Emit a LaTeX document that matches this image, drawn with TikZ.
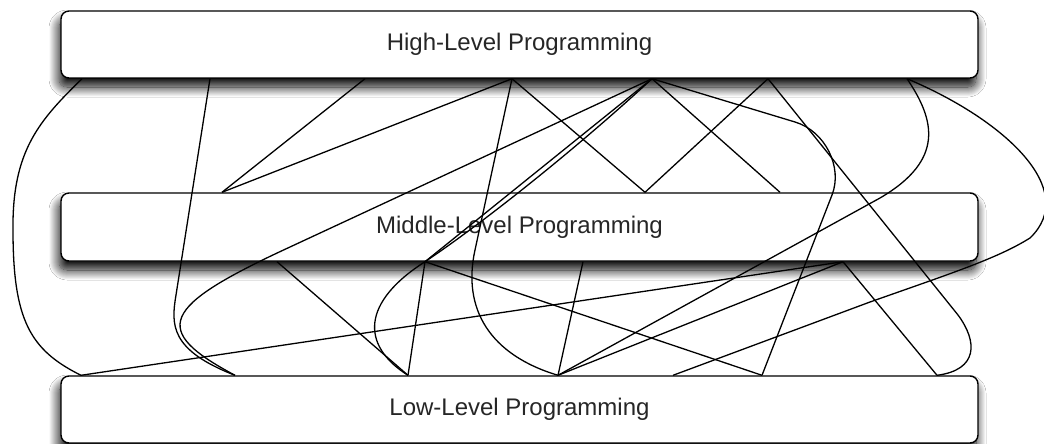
\documentclass[tikz,border=0pt]{standalone}
\usepackage{fontspec}
\setmainfont{Liberation Sans}
\usetikzlibrary{shadows.blur}
\begin{document}
\begin{tikzpicture}[x=1pt,y=-1pt,
  level/.style={draw=black, line width=1.4pt, rounded corners=8pt, fill=white,
    minimum width=917pt, minimum height=67pt, inner sep=0pt, text=black!85,
    font=\fontsize{24}{28}\selectfont,
    blur shadow={shadow xshift=-2pt, shadow yshift=-9pt, shadow blur radius=10pt, shadow opacity=100, shadow blur steps=20}},
  wire/.style={line width=1.3pt, draw=black}]
\useasboundingbox (0,0) rectangle (1044,444);
\fill[white] (0,0) rectangle (1044,444);
\node[level] (high) at (519.5,44.5) {High-Level Programming};
\node[level, minimum height=68pt] (mid) at (519.5,227) {Middle-Level Programming};
\node[level] (low) at (519.5,409.5) {Low-Level Programming};
% attachment points
\coordinate (h1) at (high.south -| 82,0);
\coordinate (h2) at (high.south -| 210,0);
\coordinate (h3) at (high.south -| 365,0);
\coordinate (h4) at (high.south -| 512,0);
\coordinate (h5) at (high.south -| 652,0);
\coordinate (h6) at (high.south -| 768,0);
\coordinate (h7) at (high.south -| 907,0);
\coordinate (m1) at (mid.north -| 222,0);
\coordinate (m2) at (mid.north -| 645,0);
\coordinate (m3) at (mid.north -| 780,0);
\coordinate (b1) at (mid.south -| 277,0);
\coordinate (b2) at (mid.south -| 425,0);
\coordinate (b3) at (mid.south -| 583,0);
\coordinate (b4) at (mid.south -| 843,0);
\coordinate (l1) at (low.north -| 81,0);
\coordinate (l2) at (low.north -| 235,0);
\coordinate (l3) at (low.north -| 408,0);
\coordinate (l4) at (low.north -| 558,0);
\coordinate (l7) at (low.north -| 673,0);
\coordinate (l5) at (low.north -| 762,0);
\coordinate (l6) at (low.north -| 937,0);
% curved connectors
\draw[wire] (h1) .. controls (40,120) and (12,150) .. (13,230) .. controls (13,320) and (30,350) .. (l1);
\draw[wire] (h2) -- (176,295) .. controls (171,325) and (170,350) .. (l2);
\draw[wire] (h5) -- (290,247) .. controls (160,307) and (150,330) .. (l2);
\draw[wire] (h4) -- (475,250) .. controls (462,309) and (490,355) .. (l4);
\draw[wire] (h5) .. controls (575,150) and (480,225) .. (b2) .. controls (362,302) and (360,345) .. (l3);
\draw[wire] (h5) -- (795,122) .. controls (825,131) and (843,167) .. (832,195) -- (l5);
\draw[wire] (h6) -- (958,315) .. controls (978,342) and (978,370) .. (l6);
\draw[wire] (h7) .. controls (935,120) and (945,160) .. (880,198) -- (l4);
\draw[wire] (h7) .. controls (1005,120) and (1080,190) .. (1030,238) .. controls (998,258) and (955,272) .. (870,302) -- (l7);
% straight connectors
\draw[wire] (h3) -- (m1);
\draw[wire] (h4) -- (m1);
\draw[wire] (h4) -- (m2);
\draw[wire] (h6) -- (m2);
\draw[wire] (h5) -- (m3);
\draw[wire] (h5) -- (b2);
\draw[wire] (b1) -- (l3);
\draw[wire] (b2) -- (l3);
\draw[wire] (b2) -- (l5);
\draw[wire] (b3) -- (l4);
\draw[wire] (b4) -- (l1);
\draw[wire] (b4) -- (l4);
\draw[wire] (b4) -- (l6);
\end{tikzpicture}
\end{document}
